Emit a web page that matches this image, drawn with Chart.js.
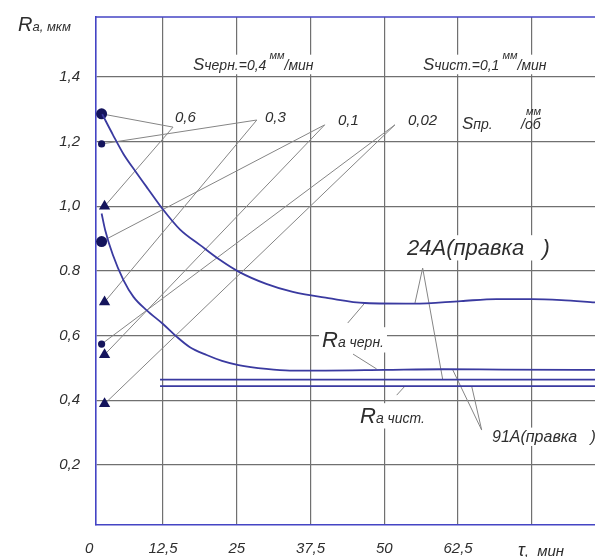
<!DOCTYPE html>
<html>
<head>
<meta charset="utf-8">
<script src="https://cdn.jsdelivr.net/npm/chart.js@4.4.0/dist/chart.umd.min.js"></script>
<style>
  html, body { margin: 0; padding: 0; background: #fff; }
</style>
</head>
<body>
<canvas id="grafica" width="595" height="557"></canvas>
<script>
// ось X: время, мин
const xTicks = [0, 12.5, 25, 37.5, 50, 62.5, 75];
const xTickLabels = ['0', '12,5', '25', '37,5', '50', '62,5', ''];
// ось Y: Ra, мкм
const yTicks = [0.2, 0.4, 0.6, 0.8, 1.0, 1.2, 1.4];
const yTickLabels = ['0,2', '0,4', '0,6', '0.8', '1,0', '1,2', '1,4'];

// кривая 24A (правка)
const t24  = [2.2, 4, 5.8, 8, 10, 12.3, 15.4, 18.8, 22, 25.3, 30, 34.5, 40.5, 46.7, 55, 63, 69, 75, 80, 85.7];
const ra24 = [1.285, 1.222, 1.162, 1.104, 1.053, 0.995, 0.928, 0.88, 0.836, 0.798, 0.76, 0.735, 0.716, 0.701, 0.699, 0.707, 0.713, 0.713, 0.710, 0.703];

// кривая 91A (правка)
const t91  = [2.1, 2.7, 4, 5.8, 7.5, 9.7, 12.5, 14.8, 17, 19.9, 22.5, 25.3, 30, 34, 40, 50, 60, 70, 85.7];
const ra91 = [0.978, 0.927, 0.85, 0.772, 0.72, 0.679, 0.636, 0.597, 0.565, 0.54, 0.522, 0.509, 0.497, 0.492, 0.492, 0.494, 0.496, 0.495, 0.494];

// прямые Ra черн. / Ra чист.
const tStraight = [12, 85.7];
const raRough = [0.464, 0.464];
const raFinish = [0.444, 0.444];

// точки у оси (Sпр.)
const circleT = 2.1;
const bigCircleRa = [1.286, 0.891];
const smallCircleRa = [1.193, 0.574];
const triangleT = 2.6;
const triangleRa = [1.0, 0.704, 0.541, 0.389];
const feedLabels = ['0,6', '0,3', '0,1', '0,02'];

const BLUE = '#4444c4';
const CURVE = '#3a3aa0';
const MARK = '#14145c';
const GRID = '#707070';
const TEXT = '#2e2e2e';
const FONT = '"Liberation Sans", "DejaVu Sans", sans-serif';

const pts = (xs, ys) => xs.map((x, i) => ({ x: x, y: ys[i] }));

// выноски: куда указывают (в единицах графика)
const feedAnchor = [[14.2, 1.245], [28.4, 1.267], [39.9, 1.252], [51.8, 1.252]];
const feedCircle = [bigCircleRa[0], smallCircleRa[0], bigCircleRa[1], smallCircleRa[1]];
const leaders = [
  [[43.8, 0.639], [46.7, 0.701]],
  [[44.7, 0.543], [48.7, 0.497]],
  [[52.1, 0.416], [53.5, 0.444]],
  [[56.5, 0.809], [55.2, 0.701]],
  [[56.5, 0.809], [59.9, 0.464]],
  [[66.5, 0.308], [61.6, 0.494]],
  [[66.5, 0.308], [64.8, 0.444]]
];

// надписи: x, базовая линия, куски текста [текст, размер, сдвиг], белая подложка
const labels = [
  { x: 18, y: 31, runs: [['R', 20], ['a, мкм', 13]] },
  { x: 193, y: 70, box: true, runs: [['S', 17], ['черн.', 14], ['=0,4', 14], [' мм', 11, -11], ['/мин', 14]] },
  { x: 423, y: 70, box: true, runs: [['S', 17], ['чист.', 14], ['=0,1', 14], [' мм', 11, -11], ['/мин', 14]] },
  { x: 175, y: 122, runs: [[feedLabels[0], 15]] },
  { x: 265, y: 122, runs: [[feedLabels[1], 15]] },
  { x: 338, y: 125, runs: [[feedLabels[2], 15]] },
  { x: 408, y: 125, runs: [[feedLabels[3], 15]] },
  { x: 462, y: 129, runs: [['S', 17], ['пр.', 14]] },
  { x: 526, y: 115, runs: [['мм', 11]] },
  { x: 521, y: 129, runs: [['/об', 14]] },
  { x: 407, y: 255, box: true, runs: [['24A(правка   )', 22]] },
  { x: 322, y: 347, box: true, runs: [['R', 22], ['a черн.', 14]] },
  { x: 360, y: 423, box: true, runs: [['R', 22], ['a чист.', 14]] },
  { x: 492, y: 442, box: true, runs: [['91A(правка   )', 16]] },
  { x: 518, y: 556, runs: [['τ', 18], [',  мин', 15]] }
];

function runsWidth(ctx, runs) {
  let w = 0;
  runs.forEach(r => { ctx.font = 'italic ' + r[1] + 'px ' + FONT; w += ctx.measureText(r[0]).width; });
  return w;
}

const notas = {
  id: 'notas',
  beforeDatasetsDraw(chart) {
    const ctx = chart.ctx;
    const sx = chart.scales.x, sy = chart.scales.y;
    const P = (t, r) => [sx.getPixelForValue(t), sy.getPixelForValue(r)];
    ctx.save();
    // белые подложки под надписями
    ctx.fillStyle = '#fff';
    labels.filter(l => l.box).forEach(l => {
      const w = runsWidth(ctx, l.runs);
      const h = Math.max(...l.runs.map(r => r[1]));
      ctx.fillRect(l.x - 3, l.y - h * 0.9, w + 6, h * 1.15);
    });
    // выноски
    ctx.strokeStyle = '#858585';
    ctx.lineWidth = 1;
    const line = (a, b) => { ctx.beginPath(); ctx.moveTo(a[0], a[1]); ctx.lineTo(b[0], b[1]); ctx.stroke(); };
    feedAnchor.forEach((a, i) => {
      const p = P(a[0], a[1]);
      line(p, P(circleT, feedCircle[i]));
      line(p, P(triangleT, triangleRa[i]));
    });
    leaders.forEach(l => line(P(l[0][0], l[0][1]), P(l[1][0], l[1][1])));
    ctx.restore();
  },
  afterDraw(chart) {
    const ctx = chart.ctx;
    const a = chart.chartArea;
    ctx.save();
    // верхняя рамка
    ctx.strokeStyle = BLUE;
    ctx.lineWidth = 1.6;
    ctx.beginPath();
    ctx.moveTo(a.left, a.top);
    ctx.lineTo(a.right, a.top);
    ctx.stroke();
    // текст
    ctx.fillStyle = TEXT;
    ctx.textBaseline = 'alphabetic';
    labels.forEach(l => {
      let x = l.x;
      l.runs.forEach(r => {
        ctx.font = 'italic ' + r[1] + 'px ' + FONT;
        ctx.fillText(r[0], x, l.y + (r[2] || 0));
        x += ctx.measureText(r[0]).width;
      });
    });
    ctx.restore();
  }
};

const curve = (data) => ({
  data: data, showLine: true, pointRadius: 0, borderColor: CURVE, borderWidth: 1.8,
  cubicInterpolationMode: 'monotone', fill: false
});
const marks = (data, style, r) => ({
  data: data, showLine: false, pointStyle: style, pointRadius: r,
  backgroundColor: MARK, borderColor: MARK, borderWidth: 0, clip: false
});
const noPad = s => { s.paddingTop = 0; s.paddingBottom = 0; s.paddingLeft = 0; s.paddingRight = 0; };

new Chart(document.getElementById('grafica'), {
  type: 'scatter',
  data: {
    datasets: [
      curve(pts(t24, ra24)),
      curve(pts(t91, ra91)),
      Object.assign(curve(pts(tStraight, raRough)), { cubicInterpolationMode: 'default', tension: 0 }),
      Object.assign(curve(pts(tStraight, raFinish)), { cubicInterpolationMode: 'default', tension: 0 }),
      marks(bigCircleRa.map(r => ({ x: circleT, y: r })), 'circle', 5.5),
      marks(smallCircleRa.map(r => ({ x: circleT, y: r })), 'circle', 3.6),
      marks(triangleRa.map(r => ({ x: triangleT, y: r })), 'triangle', 6.5)
    ]
  },
  options: {
    responsive: false,
    animation: false,
    events: [],
    devicePixelRatio: 1,
    layout: { autoPadding: false, padding: { top: 17, right: 0, bottom: 0, left: 0 } },
    plugins: { legend: { display: false }, tooltip: { enabled: false } },
    scales: {
      x: {
        type: 'linear', min: 1.15, max: 85.7,
        afterBuildTicks: s => { s.ticks = xTicks.map(v => ({ value: v })); },
        afterFit: s => { s.height = 32; noPad(s); },
        ticks: {
          autoSkip: false, maxRotation: 0, padding: 15, color: TEXT,
          font: { family: FONT, size: 15, style: 'italic' },
          callback: (v, i) => xTickLabels[i]
        },
        grid: {
          color: c => (c.tick && c.tick.value === 0) ? 'rgba(0,0,0,0)' : GRID,
          lineWidth: 1.2, drawTicks: false
        },
        border: { color: BLUE, width: 1.6 }
      },
      y: {
        type: 'linear', min: 0.0143, max: 1.5856,
        afterBuildTicks: s => { s.ticks = yTicks.map(v => ({ value: v })); },
        afterFit: s => { s.width = 96; noPad(s); },
        ticks: {
          padding: 16, color: TEXT,
          font: { family: FONT, size: 15, style: 'italic' },
          callback: (v, i) => yTickLabels[i]
        },
        grid: { color: GRID, lineWidth: 1.2, drawTicks: false },
        border: { color: BLUE, width: 1.6 }
      }
    }
  },
  plugins: [notas]
});
</script>
</body>
</html>
